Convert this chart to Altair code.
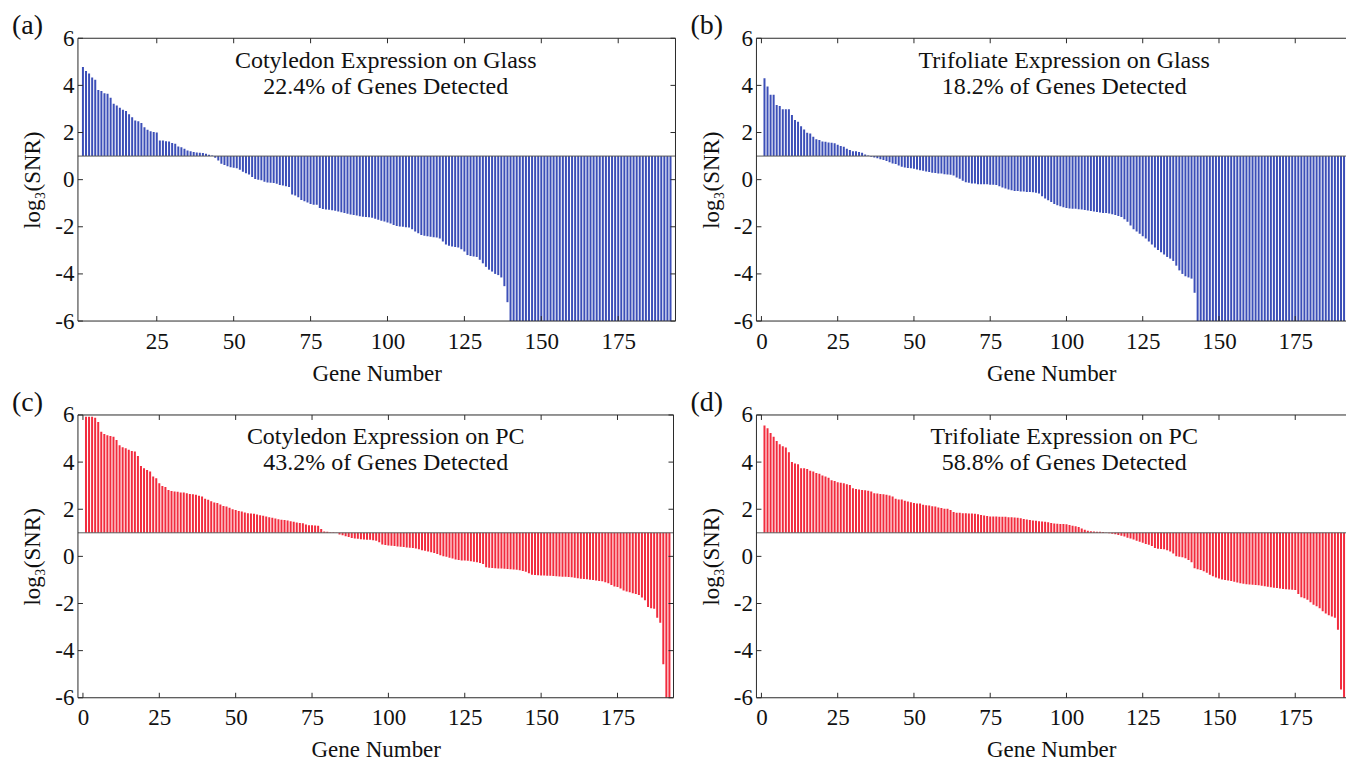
import altair as alt
import pandas as pd

FONT = "Liberation Serif"

GENES = list(range(1, 193))

# (a) Cotyledon on Glass, log3(SNR) sorted, genes 1..192
SNR_A = [
    4.78, 4.61, 4.50, 4.33, 4.24, 3.80, 3.76, 3.67, 3.64, 3.48,
    3.22, 3.15, 3.05, 2.97, 2.91, 2.77, 2.65, 2.51, 2.48, 2.40,
    2.22, 2.12, 2.05, 2.02, 2.00, 1.66, 1.66, 1.63, 1.62, 1.55,
    1.52, 1.41, 1.38, 1.31, 1.24, 1.21, 1.17, 1.15, 1.14, 1.13,
    1.10, 1.06, 1.02, 0.93, 0.81, 0.67, 0.62, 0.57, 0.53, 0.50,
    0.48, 0.42, 0.33, 0.27, 0.22, 0.11, 0.03, 0.00, -0.03, -0.09,
    -0.12, -0.13, -0.14, -0.17, -0.23, -0.25, -0.28, -0.31, -0.63, -0.67,
    -0.75, -0.86, -0.92, -0.97, -1.03, -1.06, -1.07, -1.20, -1.25, -1.27,
    -1.28, -1.30, -1.32, -1.35, -1.38, -1.41, -1.45, -1.48, -1.50, -1.52,
    -1.55, -1.57, -1.58, -1.60, -1.62, -1.66, -1.70, -1.74, -1.78, -1.82,
    -1.86, -1.92, -1.97, -1.99, -2.00, -2.02, -2.03, -2.10, -2.20, -2.27,
    -2.35, -2.38, -2.40, -2.42, -2.44, -2.46, -2.50, -2.62, -2.75, -2.80,
    -2.84, -2.86, -2.88, -2.95, -3.05, -3.20, -3.24, -3.26, -3.28, -3.40,
    -3.55, -3.70, -3.82, -3.90, -4.00, -4.05, -4.15, -4.52, -5.20, -6.00,
    -6.00, -6.00, -6.00, -6.00, -6.00, -6.00, -6.00, -6.00, -6.00, -6.00,
    -6.00, -6.00, -6.00, -6.00, -6.00, -6.00, -6.00, -6.00, -6.00, -6.00,
    -6.00, -6.00, -6.00, -6.00, -6.00, -6.00, -6.00, -6.00, -6.00, -6.00,
    -6.00, -6.00, -6.00, -6.00, -6.00, -6.00, -6.00, -6.00, -6.00, -6.00,
    -6.00, -6.00, -6.00, -6.00, -6.00, -6.00, -6.00, -6.00, -6.00, -6.00,
    -6.00, -6.00,
]

# (b) Trifoliate on Glass
SNR_B = [
    4.30, 3.95, 3.60, 3.60, 3.17, 3.13, 2.99, 2.99, 2.99, 2.74,
    2.53, 2.46, 2.27, 2.13, 1.99, 1.96, 1.82, 1.71, 1.68, 1.62,
    1.61, 1.58, 1.57, 1.54, 1.48, 1.43, 1.40, 1.31, 1.26, 1.21,
    1.20, 1.17, 1.14, 1.07, 1.03, 0.97, 0.94, 0.91, 0.87, 0.83,
    0.79, 0.74, 0.69, 0.66, 0.60, 0.55, 0.52, 0.49, 0.48, 0.46,
    0.43, 0.40, 0.38, 0.35, 0.32, 0.29, 0.28, 0.26, 0.26, 0.23,
    0.22, 0.21, 0.18, 0.09, 0.04, -0.05, -0.11, -0.13, -0.16, -0.16,
    -0.19, -0.19, -0.20, -0.20, -0.22, -0.22, -0.23, -0.28, -0.33, -0.38,
    -0.42, -0.45, -0.48, -0.48, -0.50, -0.50, -0.52, -0.52, -0.53, -0.56,
    -0.59, -0.70, -0.80, -0.87, -0.95, -1.03, -1.09, -1.13, -1.17, -1.20,
    -1.22, -1.23, -1.24, -1.26, -1.27, -1.29, -1.31, -1.33, -1.35, -1.37,
    -1.39, -1.41, -1.42, -1.44, -1.47, -1.50, -1.54, -1.58, -1.68, -1.79,
    -1.95, -2.10, -2.20, -2.30, -2.40, -2.50, -2.62, -2.75, -2.88, -2.98,
    -3.08, -3.18, -3.28, -3.35, -3.45, -3.65, -3.85, -4.00, -4.10, -4.15,
    -4.20, -4.80, -6.00, -6.00, -6.00, -6.00, -6.00, -6.00, -6.00, -6.00,
    -6.00, -6.00, -6.00, -6.00, -6.00, -6.00, -6.00, -6.00, -6.00, -6.00,
    -6.00, -6.00, -6.00, -6.00, -6.00, -6.00, -6.00, -6.00, -6.00, -6.00,
    -6.00, -6.00, -6.00, -6.00, -6.00, -6.00, -6.00, -6.00, -6.00, -6.00,
    -6.00, -6.00, -6.00, -6.00, -6.00, -6.00, -6.00, -6.00, -6.00, -6.00,
    -6.00, -6.00,
]

# (c) Cotyledon on PC
SNR_C = [
    5.92, 5.92, 5.92, 5.88, 5.70, 5.29, 5.19, 5.14, 5.11, 5.08,
    4.94, 4.71, 4.63, 4.59, 4.52, 4.47, 4.45, 4.26, 3.84, 3.74,
    3.67, 3.60, 3.39, 3.32, 3.10, 2.99, 2.94, 2.82, 2.77, 2.75,
    2.74, 2.71, 2.71, 2.68, 2.65, 2.64, 2.61, 2.57, 2.54, 2.45,
    2.40, 2.34, 2.29, 2.26, 2.20, 2.14, 2.12, 2.06, 2.00, 1.97,
    1.93, 1.90, 1.86, 1.83, 1.82, 1.81, 1.78, 1.75, 1.72, 1.69,
    1.66, 1.64, 1.61, 1.58, 1.55, 1.54, 1.52, 1.49, 1.47, 1.44,
    1.42, 1.41, 1.35, 1.32, 1.32, 1.31, 1.30, 1.16, 1.06, 1.04,
    1.02, 1.02, 1.01, 0.93, 0.90, 0.85, 0.82, 0.78, 0.76, 0.75,
    0.73, 0.72, 0.71, 0.70, 0.68, 0.66, 0.60, 0.50, 0.48, 0.46,
    0.45, 0.44, 0.42, 0.41, 0.40, 0.38, 0.37, 0.35, 0.33, 0.30,
    0.26, 0.24, 0.21, 0.17, 0.14, 0.10, 0.05, 0.01, -0.02, -0.06,
    -0.09, -0.13, -0.15, -0.17, -0.18, -0.19, -0.21, -0.23, -0.25, -0.28,
    -0.32, -0.46, -0.48, -0.49, -0.50, -0.51, -0.52, -0.53, -0.54, -0.55,
    -0.56, -0.57, -0.59, -0.62, -0.65, -0.72, -0.78, -0.79, -0.80, -0.81,
    -0.81, -0.82, -0.82, -0.83, -0.84, -0.85, -0.86, -0.87, -0.88, -0.89,
    -0.91, -0.93, -0.95, -0.96, -0.97, -0.99, -1.00, -1.02, -1.04, -1.06,
    -1.10, -1.14, -1.22, -1.28, -1.30, -1.36, -1.45, -1.49, -1.52, -1.56,
    -1.60, -1.64, -1.75, -1.86, -2.15, -2.20, -2.22, -2.60, -2.82, -4.58,
    -6.00, -6.00,
]

# (d) Trifoliate on PC
SNR_D = [
    5.55, 5.44, 5.24, 5.08, 4.90, 4.76, 4.67, 4.62, 4.42, 4.00,
    3.94, 3.91, 3.74, 3.74, 3.71, 3.63, 3.60, 3.54, 3.51, 3.43,
    3.39, 3.34, 3.23, 3.20, 3.15, 3.12, 3.10, 3.06, 3.03, 2.89,
    2.86, 2.84, 2.82, 2.81, 2.78, 2.75, 2.68, 2.67, 2.65, 2.64,
    2.61, 2.58, 2.54, 2.44, 2.41, 2.41, 2.36, 2.33, 2.30, 2.27,
    2.24, 2.24, 2.19, 2.17, 2.16, 2.13, 2.12, 2.07, 2.05, 2.02,
    2.02, 1.97, 1.88, 1.85, 1.85, 1.83, 1.83, 1.82, 1.82, 1.81,
    1.79, 1.76, 1.73, 1.71, 1.69, 1.69, 1.69, 1.68, 1.68, 1.68,
    1.66, 1.66, 1.65, 1.64, 1.62, 1.59, 1.56, 1.54, 1.52, 1.51,
    1.49, 1.48, 1.47, 1.45, 1.42, 1.40, 1.38, 1.37, 1.37, 1.36,
    1.33, 1.30, 1.28, 1.25, 1.18, 1.13, 1.09, 1.07, 1.06, 1.05,
    1.04, 1.03, 1.01, 0.98, 0.96, 0.94, 0.91, 0.88, 0.84, 0.79,
    0.76, 0.72, 0.66, 0.62, 0.58, 0.53, 0.49, 0.44, 0.36, 0.32,
    0.31, 0.30, 0.26, 0.21, 0.12, 0.01, -0.02, -0.04, -0.08, -0.15,
    -0.25, -0.50, -0.55, -0.58, -0.63, -0.70, -0.78, -0.84, -0.90, -0.94,
    -0.98, -1.00, -1.02, -1.05, -1.08, -1.11, -1.14, -1.16, -1.18, -1.19,
    -1.20, -1.22, -1.23, -1.25, -1.27, -1.29, -1.31, -1.33, -1.34, -1.36,
    -1.38, -1.40, -1.41, -1.42, -1.43, -1.60, -1.74, -1.78, -1.84, -1.95,
    -2.05, -2.12, -2.20, -2.33, -2.42, -2.50, -2.55, -2.60, -3.11, -5.65,
    -6.00, -6.00,
]

for _s in (SNR_A, SNR_B, SNR_C, SNR_D):
    assert len(_s) == len(GENES), len(_s)

PANEL_LABELS = ["(a)", "(b)", "(c)", "(d)"]
TITLE_LINE1 = [
    "Cotyledon Expression on Glass",
    "Trifoliate Expression on Glass",
    "Cotyledon Expression on PC",
    "Trifoliate Expression on PC",
]
TITLE_LINE2 = [
    "22.4% of Genes Detected",
    "18.2% of Genes Detected",
    "43.2% of Genes Detected",
    "58.8% of Genes Detected",
]
X_TICKS_A = [25, 50, 75, 100, 125, 150, 175]
X_TICKS = [0, 25, 50, 75, 100, 125, 150, 175]
Y_TICKS = [-6, -4, -2, 0, 2, 4, 6]
BASELINE = [1]

BLUE = "#3c4fb8"
RED = "#f22c3e"
FRAME = "#2a2a2a"
TEXT = "#111111"
H = 283


def panel(values, color, x_domain, x_ticks, width, label, line1, line2, right_edge):
    df = pd.DataFrame({"gene": GENES, "snr": values})
    one = pd.DataFrame({"k": [0]})
    xs = alt.Scale(domain=x_domain, nice=False, zero=False)
    ys = alt.Scale(domain=[-6, 6], nice=False, zero=False)
    common = dict(ticks=False, domain=False, grid=False, labelFlush=False,
                  labelOverlap=False, labelFont=FONT, titleFont=FONT,
                  labelFontSize=23, titleFontSize=23, labelColor=TEXT,
                  titleColor=TEXT, titleFontWeight="normal")
    xaxis = alt.Axis(values=x_ticks, title="Gene Number", labelPadding=9,
                     titlePadding=9, format="d", **common)
    yaxis = alt.Axis(values=Y_TICKS, title="log\u2083(SNR)", labelPadding=4,
                     titlePadding=10,
                     labelExpr="datum.value < 0 ? '-' + (-datum.value) : '' + datum.value",
                     **common)

    def X(field):
        return alt.X(field, scale=xs, axis=xaxis)

    def Y(field):
        return alt.Y(field, scale=ys, axis=yaxis)

    bars = alt.Chart(df).mark_bar(color=color, size=2.0, clip=True).encode(
        x=X("gene:Q"),
        y=Y("snr:Q"),
        y2=alt.datum(1),
    )
    base = alt.Chart(pd.DataFrame({"b": BASELINE})).mark_rule(
        color="#5a5a5a", strokeWidth=1).encode(y=Y("b:Q"))

    xt = pd.DataFrame({"t": x_ticks})
    yt = pd.DataFrame({"t": Y_TICKS})
    tick_style = dict(color=FRAME, strokeWidth=1)
    xt_bot = alt.Chart(xt).mark_rule(**tick_style).encode(
        x=X("t:Q"), y=alt.value(H), y2=alt.value(H - 5))
    xt_top = alt.Chart(xt).mark_rule(**tick_style).encode(
        x=X("t:Q"), y=alt.value(0), y2=alt.value(5))
    yt_left = alt.Chart(yt).mark_rule(**tick_style).encode(
        y=Y("t:Q"), x=alt.value(0), x2=alt.value(5))

    frame_top = alt.Chart(one).mark_rule(**tick_style).encode(y=alt.value(0))
    frame_bot = alt.Chart(one).mark_rule(**tick_style).encode(y=alt.value(H))
    frame_left = alt.Chart(one).mark_rule(**tick_style).encode(x=alt.value(0))

    txt_style = dict(font=FONT, fontSize=24, align="center", baseline="middle", color=TEXT)
    t1 = alt.Chart(one).mark_text(**txt_style).encode(
        x=alt.value(308), y=alt.value(22.5), text=alt.value(line1))
    t2 = alt.Chart(one).mark_text(**txt_style).encode(
        x=alt.value(308), y=alt.value(48.5), text=alt.value(line2))
    lab = alt.Chart(one).mark_text(font=FONT, fontSize=28, align="left",
                                    baseline="middle", color=TEXT).encode(
        x=alt.value(-66), y=alt.value(-12), text=alt.value(label))

    layers = [bars, base, xt_bot, xt_top, yt_left, frame_top, frame_bot, frame_left]
    if right_edge:
        yt_right = alt.Chart(yt).mark_rule(**tick_style).encode(
            y=Y("t:Q"), x=alt.value(width), x2=alt.value(width - 5))
        frame_right = alt.Chart(one).mark_rule(**tick_style).encode(x=alt.value(width))
        layers += [yt_right, frame_right]
    layers += [t1, t2, lab]
    return alt.layer(*layers).properties(width=width, height=H)


pa = panel(SNR_A, BLUE, [1, 192], X_TICKS_A, 598, PANEL_LABELS[0],
           TITLE_LINE1[0], TITLE_LINE2[0], True)
pb = panel(SNR_B, BLUE, [0, 190], X_TICKS, 590, PANEL_LABELS[1],
           TITLE_LINE1[1], TITLE_LINE2[1], False)
pc = panel(SNR_C, RED, [0, 191.7], X_TICKS, 596, PANEL_LABELS[2],
           TITLE_LINE1[2], TITLE_LINE2[2], True)
pd_ = panel(SNR_D, RED, [0, 190], X_TICKS, 590, PANEL_LABELS[3],
            TITLE_LINE1[3], TITLE_LINE2[3], False)

chart = alt.concat(
    pa, pb, pc, pd_, columns=2,
    spacing=alt.RowColnumber(row=94, column=81),
    bounds="flush", align="all",
).properties(
    padding={"left": 12, "top": 12, "right": 0, "bottom": 0},
    background="white",
).configure_view(stroke=None)

chart.save("out.html", embed_options={"renderer": "svg", "actions": False})
